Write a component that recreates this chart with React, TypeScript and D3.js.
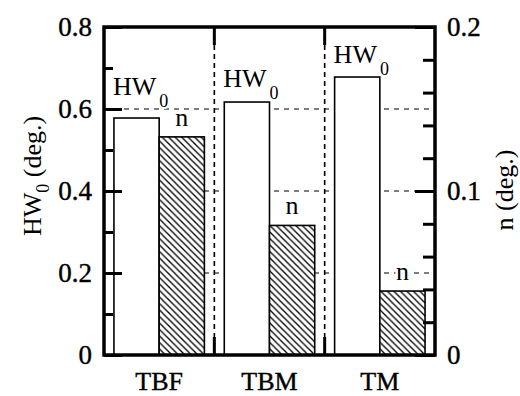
import React, { useRef, useEffect } from 'react';
import * as d3 from 'd3';

const groups = ['TBF', 'TBM', 'TM'];
const hwValues = [0.578, 0.617, 0.678];
const nValues = [0.133, 0.079, 0.039];
const leftTicks = [0, 0.2, 0.4, 0.6, 0.8];
const leftMinor = [0.1, 0.3, 0.5, 0.7];
const rightTicks = [0, 0.1, 0.2];
const rightMinor = [0.02, 0.04, 0.06, 0.08, 0.12, 0.14, 0.16, 0.18];
const gridValues = [0.2, 0.4, 0.6];

// how far the HW0 labels sit above each bar (hand placed in the original)
const hwLabelLift = [23, 15, 14];

const FONT = "'Liberation Serif', 'DejaVu Serif', serif";

const App = () => {
  const svgRef = useRef<SVGSVGElement>(null);

  useEffect(() => {
    document.body.style.margin = '0';
    const svg = d3.select(svgRef.current);
    svg.selectAll('*').remove();

    const margin = { top: 27, right: 85, bottom: 41, left: 104 };
    const W = 520, H = 396;
    const width = W - margin.left - margin.right;
    const height = H - margin.top - margin.bottom;

    const defs = svg.append('defs');
    const pat = defs.append('pattern')
      .attr('id', 'hatch')
      .attr('patternUnits', 'userSpaceOnUse')
      .attr('width', 6.5)
      .attr('height', 6.5);
    pat.append('rect').attr('width', 6.5).attr('height', 6.5).attr('fill', '#fff');
    pat.append('path')
      .attr('d', 'M0,0 L6.5,6.5 M-1,5.5 L1,7.5 M5.5,-1 L7.5,1')
      .attr('stroke', '#000')
      .attr('stroke-width', 1.3);

    const g = svg.append('g').attr('transform', `translate(${margin.left},${margin.top})`);

    const x0 = d3.scaleBand().domain(groups).range([0, width]).paddingInner(0).paddingOuter(0);
    const x1 = d3.scaleBand().domain(['hw', 'n']).range([0, x0.bandwidth()]).paddingInner(0).paddingOuter(0.22);
    const yL = d3.scaleLinear().domain([0, 0.8]).range([height, 0]);
    const yR = d3.scaleLinear().domain([0, 0.2]).range([height, 0]);

    // horizontal dashed grid
    g.append('g').selectAll('line')
      .data(gridValues)
      .enter().append('line')
      .attr('x1', 0).attr('x2', width)
      .attr('y1', d => yL(d)).attr('y2', d => yL(d))
      .attr('stroke', '#000')
      .attr('stroke-width', 1.1)
      .attr('stroke-dasharray', '5,5');

    // vertical dashed separators
    const seps = groups.slice(1).map(c => x0(c)!);
    g.append('g').selectAll('line')
      .data(seps)
      .enter().append('line')
      .attr('x1', d => d).attr('x2', d => d)
      .attr('y1', 0).attr('y2', height)
      .attr('stroke', '#000')
      .attr('stroke-width', 1.6)
      .attr('stroke-dasharray', '5,4');

    // bars
    const grp = g.selectAll('.grp')
      .data(groups)
      .enter().append('g')
      .attr('transform', d => `translate(${x0(d)},0)`);

    grp.append('rect')
      .attr('x', x1('hw')!)
      .attr('width', x1.bandwidth())
      .attr('y', (d, i) => yL(hwValues[i]))
      .attr('height', (d, i) => height - yL(hwValues[i]))
      .attr('fill', '#fff')
      .attr('stroke', '#000')
      .attr('stroke-width', 1.6);

    grp.append('rect')
      .attr('x', x1('n')!)
      .attr('width', x1.bandwidth())
      .attr('y', (d, i) => yR(nValues[i]))
      .attr('height', (d, i) => height - yR(nValues[i]))
      .attr('fill', 'url(#hatch)')
      .attr('stroke', '#000')
      .attr('stroke-width', 1.6);

    // bar labels with a white halo so dashes break around them
    const hwLab = grp.append('text')
      .attr('x', x1('hw')! - 1)
      .attr('y', (d, i) => yL(hwValues[i]) - hwLabelLift[i])
      .style('font-family', FONT)
      .style('font-size', '26px')
      .attr('fill', '#000')
      .attr('stroke', '#fff')
      .attr('stroke-width', 4)
      .attr('paint-order', 'stroke');
    hwLab.append('tspan').text('HW');
    hwLab.append('tspan').attr('dx', 3).attr('dy', 12).style('font-size', '18px').text('0');

    grp.append('text')
      .attr('x', x1('n')! + x1.bandwidth() / 2)
      .attr('y', (d, i) => yR(nValues[i]) - 11)
      .attr('text-anchor', 'middle')
      .style('font-family', FONT)
      .style('font-size', '26px')
      .attr('fill', '#000')
      .attr('stroke', '#fff')
      .attr('stroke-width', 5)
      .attr('paint-order', 'stroke')
      .text('n');

    // frame
    g.append('rect')
      .attr('width', width)
      .attr('height', height)
      .attr('fill', 'none')
      .attr('stroke', '#000')
      .attr('stroke-width', 3.5);

    // solid stubs at category boundaries, top and bottom
    g.append('g').selectAll('line')
      .data(seps.flatMap(s => [[s, 0, 18], [s, height - 18, height]]))
      .enter().append('line')
      .attr('x1', d => d[0]).attr('x2', d => d[0])
      .attr('y1', d => d[1]).attr('y2', d => d[2])
      .attr('stroke', '#000')
      .attr('stroke-width', 3);

    const styleAxis = (sel: any) => {
      sel.select('.domain').remove();
      sel.selectAll('line').attr('stroke', '#000').attr('stroke-width', 3);
      sel.selectAll('text')
        .style('font-family', FONT)
        .style('font-size', '27px')
        .attr('fill', '#000')
        .attr('stroke', '#000')
        .attr('stroke-width', 0.4);
    };

    const fmt = (d: any) => (d === 0 ? '0' : d3.format('.1f')(d));

    // left axis: ticks point inward
    g.append('g')
      .call(d3.axisLeft(yL).tickValues(leftTicks).tickSize(-18).tickPadding(12).tickFormat(fmt))
      .call(styleAxis);
    g.append('g')
      .call(d3.axisLeft(yL).tickValues(leftMinor).tickSize(-9).tickFormat(() => ''))
      .call(styleAxis);

    // right axis
    g.append('g')
      .attr('transform', `translate(${width},0)`)
      .call(d3.axisRight(yR).tickValues(rightTicks).tickSize(-20).tickPadding(12).tickFormat(fmt))
      .call(styleAxis);
    g.append('g')
      .attr('transform', `translate(${width},0)`)
      .call(d3.axisRight(yR).tickValues(rightMinor).tickSize(-12).tickFormat(() => ''))
      .call(styleAxis);

    // category labels
    g.append('g').selectAll('text')
      .data(groups)
      .enter().append('text')
      .attr('x', d => x0(d)! + x0.bandwidth() / 2)
      .attr('y', height + 35)
      .attr('text-anchor', 'middle')
      .style('font-family', FONT)
      .style('font-size', '26px')
      .attr('stroke', '#000')
      .attr('stroke-width', 0.4)
      .text(d => d);

    // axis titles
    const leftTitle = svg.append('text')
      .attr('transform', `translate(41,176) rotate(-90)`)
      .attr('text-anchor', 'middle')
      .style('font-family', FONT)
      .style('font-size', '26px');
    leftTitle.append('tspan').text('HW');
    leftTitle.append('tspan').attr('dy', 8).style('font-size', '18px').text('0');
    leftTitle.append('tspan').attr('dy', -8).text(' (deg.)');

    svg.append('text')
      .attr('transform', `translate(513,190) rotate(-90)`)
      .attr('text-anchor', 'middle')
      .style('font-family', FONT)
      .style('font-size', '26px')
      .text('n (deg.)');
  }, []);

  return <svg ref={svgRef} width={520} height={396} style={{ display: 'block', background: '#fff' }} />;
};

export default App;
